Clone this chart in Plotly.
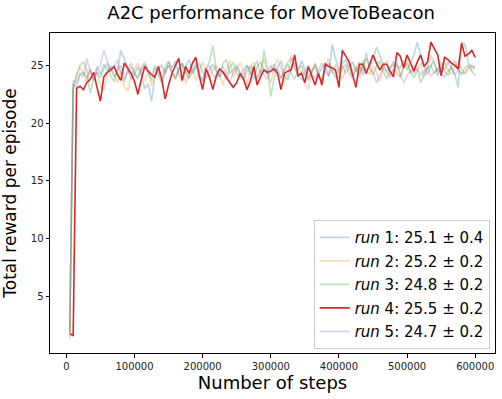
import plotly.graph_objects as go

steps = list(range(5000, 600001, 5000))

run1 = [2.0, 23.4, 23.1, 24.2, 24.4, 23.9, 24.6, 23.7, 24.9, 24.2,
        25.1, 24.6, 24.8, 24.0, 24.5, 26.3, 25.6, 24.7, 23.8, 24.2,
        24.9, 24.1, 23.0, 23.4, 21.9, 24.1, 24.7, 25.0, 24.3, 25.3,
        24.8, 25.4, 24.2, 23.6, 24.9, 25.5, 24.3, 24.8, 25.2, 24.4,
        23.9, 24.6, 25.1, 24.5, 24.0, 25.2, 25.5, 24.3, 24.7, 25.0,
        24.4, 23.9, 25.0, 24.5, 23.8, 24.9, 25.3, 24.6, 24.2, 25.0,
        24.4, 24.8, 25.4, 24.1, 23.7, 24.9, 25.2, 24.6, 25.4, 24.6,
        23.9, 24.5, 25.1, 24.3, 24.8, 25.2, 24.0, 26.8, 25.6, 24.6,
        25.2, 25.5, 24.8, 25.3, 24.6, 24.2, 25.0, 25.6, 24.9, 25.4,
        26.6, 25.8, 25.1, 24.5, 24.8, 25.3, 24.9, 24.8, 25.4, 24.6,
        25.3, 25.9, 27.0, 25.8, 24.9, 24.2, 25.0, 25.4, 24.1, 24.8,
        24.6, 25.3, 24.8, 24.2, 23.1, 27.0, 26.8, 25.2, 24.9, 24.7]

run2 = [1.3, 22.8, 24.1, 24.9, 24.3, 23.6, 24.8, 23.9, 24.4, 23.2,
        22.9, 24.3, 25.0, 24.2, 23.5, 24.6, 23.1, 22.8, 24.0, 24.7,
        25.2, 24.4, 23.6, 24.5, 23.2, 24.1, 24.9, 23.5, 24.3, 25.0,
        24.4, 23.8, 24.6, 25.1, 23.4, 24.2, 24.8, 23.7, 24.5, 25.3,
        24.2, 23.9, 24.6, 25.0, 24.1, 23.3, 24.7, 25.4, 24.0, 24.6,
        25.2, 24.5, 23.2, 24.8, 25.3, 23.8, 24.4, 25.6, 24.3, 23.5,
        24.9, 25.5, 24.7, 23.6, 24.2, 25.9, 24.8, 24.1, 24.6, 23.3,
        22.9, 24.5, 25.2, 24.0, 23.7, 24.9, 25.6, 24.3, 25.1, 24.4,
        23.8, 24.7, 25.3, 24.5, 24.9, 23.9, 25.5, 24.6, 24.2, 25.0,
        24.4, 23.6, 24.8, 25.4, 24.1, 24.7, 25.3, 24.0, 24.9, 25.5,
        24.3, 25.0, 24.5, 25.2, 24.0, 24.8, 25.9, 25.1, 24.4, 24.9,
        25.3, 24.6, 24.2, 24.9, 25.4, 24.7, 24.3, 25.0, 24.6, 24.9]

run3 = [1.8, 23.0, 24.2, 25.0, 25.3, 24.6, 22.6, 23.8, 24.4, 23.9,
        24.7, 25.2, 24.1, 23.6, 24.5, 25.0, 23.8, 24.3, 24.9, 24.2,
        23.9, 24.6, 25.1, 24.4, 23.7, 24.8, 24.2, 23.5, 24.6, 25.0,
        24.3, 23.8, 24.7, 25.2, 24.5, 23.9, 24.4, 25.0, 24.1, 23.6,
        24.8, 25.3, 26.7, 24.6, 24.0, 24.5, 23.8, 24.9, 25.2, 24.3,
        23.9, 24.6, 25.0, 24.2, 24.8, 25.4, 24.1, 26.3, 24.8, 22.3,
        24.0, 24.7, 23.9, 24.5, 25.1, 24.3, 23.8, 24.6, 25.0, 24.2,
        23.7, 24.4, 24.9, 24.1, 23.6, 24.8, 25.2, 24.5, 23.9, 24.6,
        25.0, 24.3, 24.8, 24.0, 24.6, 25.3, 24.4, 26.1, 24.7, 24.2,
        24.9, 25.4, 24.5, 23.8, 24.7, 25.1, 24.3, 24.0, 24.8, 25.2,
        24.4, 23.9, 24.6, 23.5, 24.2, 24.8, 25.0, 24.3, 24.7, 25.3,
        24.5, 24.1, 24.9, 25.4, 24.6, 24.2, 24.8, 25.0, 24.5, 24.1]

run4 = [1.8, 1.6, 23.0, 23.2, 22.9, 23.5, 23.8, 24.4, 23.1, 21.9,
        24.0, 24.4, 24.6, 24.9, 24.2, 23.7, 25.2, 24.8, 24.3, 23.6,
        22.5, 23.8, 24.9, 24.5, 24.2, 24.0, 24.9, 23.8, 22.1, 23.3,
        24.3, 25.0, 25.6, 23.7, 24.9, 24.3, 25.2, 25.7, 24.1, 22.9,
        24.7, 24.0, 22.9, 24.1, 24.7, 24.4, 23.9, 23.5, 23.1, 23.5,
        24.3, 23.8, 22.9, 23.6, 24.9, 23.3, 24.0, 24.6, 24.4, 24.5,
        24.7, 24.3, 22.9, 24.3, 24.5, 24.6, 25.9, 24.1, 24.3, 23.5,
        24.9, 24.0, 23.3, 24.3, 23.3, 25.1, 24.9, 24.8, 24.6, 23.1,
        26.3, 25.8, 25.3, 24.2, 23.1, 25.1, 25.1, 24.3, 25.2, 25.9,
        25.2, 24.6, 25.1, 25.1, 24.5, 24.0, 26.1, 25.8, 24.8, 25.9,
        25.2, 24.5, 25.3, 25.9, 24.9, 25.3, 27.0, 26.4, 25.9, 24.1,
        25.7, 25.5, 25.2, 25.0, 24.7, 26.9, 25.8, 26.0, 26.3, 25.7]

run5 = [1.9, 23.7, 23.5, 24.3, 24.0, 25.6, 24.4, 23.8, 24.6, 25.0,
        26.3, 25.4, 24.5, 24.9, 25.5, 24.2, 23.6, 24.7, 25.2, 24.4,
        23.9, 24.8, 25.3, 24.6, 24.1, 25.0, 24.4, 23.8, 24.9, 25.4,
        24.5, 24.0, 24.7, 25.2, 24.3, 23.9, 24.8, 25.1, 24.4, 23.7,
        24.6, 25.0, 24.2, 23.8, 24.5, 24.9, 24.1, 23.6, 24.4, 24.8,
        24.2, 23.7, 24.5, 25.0, 24.3, 23.9, 24.6, 24.2, 23.8, 24.5,
        25.1, 24.4, 23.9, 24.7, 25.3, 25.6, 24.8, 24.2, 23.7, 24.5,
        25.0, 24.3, 23.8, 24.6, 25.2, 24.5, 24.1, 24.8, 24.4, 23.9,
        24.7, 25.1, 24.3, 23.8, 24.6, 24.9, 24.2, 24.5, 25.0, 24.4,
        23.5, 24.2, 24.8, 24.4, 24.0, 24.6, 25.1, 24.3, 23.5, 24.1,
        24.6, 24.3, 24.8, 24.2, 24.5, 24.9, 24.1, 24.4, 24.7, 24.3,
        24.0, 24.5, 24.8, 24.2, 24.6, 24.4, 24.3, 24.7, 25.0, 24.9]

labels = ["<i>run</i> 1: 25.1 ± 0.4", "<i>run</i> 2: 25.2 ± 0.2",
          "<i>run</i> 3: 24.8 ± 0.2", "<i>run</i> 4: 25.5 ± 0.2",
          "<i>run</i> 5: 24.7 ± 0.2"]
series = [run1, run2, run3, run4, run5]
colors = ["rgba(31,119,180,0.3)", "rgba(255,127,14,0.3)", "rgba(44,160,44,0.3)",
          "rgba(214,39,40,1)", "rgba(148,103,189,0.3)"]

fig = go.Figure()
for k, (s, lab, c) in enumerate(zip(series, labels, colors)):
    fig.add_trace(go.Scatter(x=steps, y=s, mode="lines", name=lab,
                             legendgroup=f"g{k}",
                             line=dict(color=c, width=1.6)))

font = "DejaVu Sans, sans-serif"
axis_common = dict(showline=True, linecolor="black", linewidth=1, mirror=True,
                   ticks="outside", ticklen=3.5, tickcolor="black",
                   showgrid=False, zeroline=False,
                   tickfont=dict(family=font, size=10, color="#222"))
fig.update_layout(
    width=502, height=399,
    margin=dict(l=50, r=7, t=33, b=46),
    paper_bgcolor="white", plot_bgcolor="white",
    title=dict(text="A2C performance for MoveToBeacon", x=0.54, xanchor="center",
               y=0.968, yanchor="middle",
               font=dict(family=font, size=18, color="black")),
    xaxis=dict(range=[-24000, 629000], tickvals=[0, 100000, 200000, 300000, 400000, 500000, 600000],
               ticktext=["0", "100000", "200000", "300000", "400000", "500000", "600000"],
               title=dict(text="Number of steps", font=dict(family=font, size=18, color="black"),
                          standoff=5),
               **axis_common),
    yaxis=dict(range=[0.12, 27.8], tickvals=[5, 10, 15, 20, 25],
               title=dict(text="Total reward per episode", font=dict(family=font, size=17, color="black"),
                          standoff=9),
               **axis_common),
    legend=dict(x=0.988, y=0.012, xanchor="right", yanchor="bottom",
                bgcolor="rgba(255,255,255,0.8)", bordercolor="#cccccc", borderwidth=1,
                tracegroupgap=1,
                font=dict(family=font, size=15, color="black")),
    showlegend=True,
)

fig.write_html("out.html")
